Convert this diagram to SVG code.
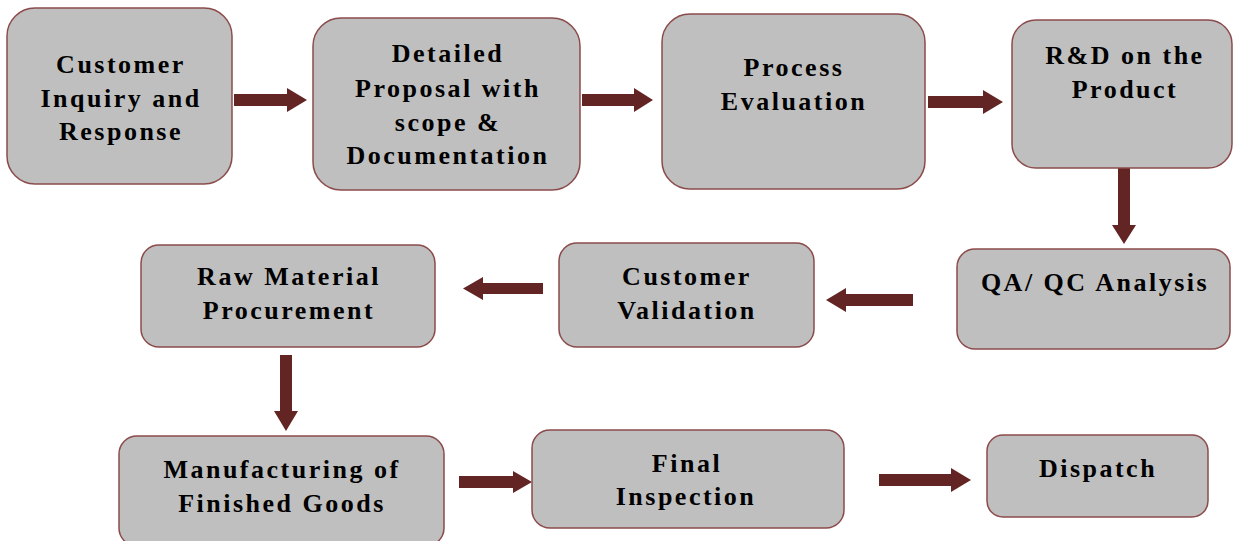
<svg xmlns="http://www.w3.org/2000/svg" width="1233" height="541" viewBox="0 0 1233 541">
<style>
.box{fill:#BFBFBF;stroke:#8C4B4B;stroke-width:1.5}
.arr{fill:#632523}
</style>
<rect width="1233" height="541" fill="#fff"/>
<g id="connectors">
<path class="arr" d="M234,94 H287 V88 L307,100 L287,112 V106 H234 Z"/>
<path class="arr" d="M582,94 H634 V88 L653,100 L634,112 V106 H582 Z"/>
<path class="arr" d="M928,96 H983 V90 L1003,102 L983,114 V108 H928 Z"/>
<path class="arr" d="M1118,168 V225 H1112 L1124,244 L1136,225 H1130 V168 Z"/>
<path class="arr" d="M913,294 H846 V288 L826,300 L846,312 V306 H913 Z"/>
<path class="arr" d="M543,283 H483 V277 L463,288.5 L483,300 V294 H543 Z"/>
<path class="arr" d="M280,355 V411 H274 L286,431 L298,411 H292 V355 Z"/>
<path class="arr" d="M459,476 H513 V471 L532,482 L513,493 V488 H459 Z"/>
<path class="arr" d="M879,474 H951 V468 L971,480 L951,492 V486 H879 Z"/>
</g>
<g font-family="Liberation Serif" font-weight="bold" font-size="26" letter-spacing="2.5" text-anchor="middle" fill="#000">
<g id="n1"><rect class="box" x="7" y="8" width="225" height="176" rx="28"/>
<text x="121" y="73">Customer</text><text x="121" y="107">Inquiry and</text><text x="121" y="140">Response</text></g>
<g id="n2"><rect class="box" x="313" y="18" width="267" height="172" rx="28"/>
<text x="448" y="62">Detailed</text><text x="448" y="97">Proposal with</text><text x="448" y="131">scope &amp;</text><text x="448" y="164">Documentation</text></g>
<g id="n3"><rect class="box" x="662" y="14" width="263" height="175" rx="28"/>
<text x="794" y="76">Process</text><text x="794" y="110">Evaluation</text></g>
<g id="n4"><rect class="box" x="1012" y="20" width="220" height="148" rx="24"/>
<text x="1125" y="64">R&amp;D on the</text><text x="1125" y="98">Product</text></g>
<g id="n5"><rect class="box" x="957" y="249" width="273" height="100" rx="18"/>
<text x="1095" y="291">QA/ QC Analysis</text></g>
<g id="n6"><rect class="box" x="559" y="243" width="255" height="104" rx="18"/>
<text x="687" y="285">Customer</text><text x="687" y="319">Validation</text></g>
<g id="n7"><rect class="box" x="141" y="245" width="294" height="102" rx="18"/>
<text x="289" y="285">Raw Material</text><text x="289" y="319">Procurement</text></g>
<g id="n8"><rect class="box" x="119" y="436" width="325" height="110" rx="18"/>
<text x="282" y="478">Manufacturing of</text><text x="282" y="512">Finished Goods</text></g>
<g id="n9"><rect class="box" x="532" y="430" width="312" height="98" rx="18"/>
<text x="687" y="472">Final</text><text x="686" y="505">Inspection</text></g>
<g id="n10"><rect class="box" x="987" y="435" width="221" height="82" rx="16"/>
<text x="1098" y="477">Dispatch</text></g>
</g>
</svg>
